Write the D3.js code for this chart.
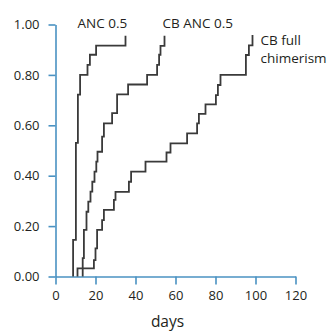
<!DOCTYPE html>
<html><head><meta charset="utf-8">
<script src="https://cdn.jsdelivr.net/npm/d3@7"></script>
<style>
html,body{margin:0;padding:0;background:#fff;}
svg{display:block;font-family:"Open Sans","Noto Sans",sans-serif;}
</style></head>
<body><svg id="c" width="333" height="333"></svg>
<script>
// ---- data ----
const seriesNames = ["ANC 0.5", "CB ANC 0.5", "CB full chimerism"];
const ancDays   = [8.8, 10.2, 11.2, 12.3, 16.0, 17.2, 20.3, 35.0];
const ancVals   = [0.145, 0.53, 0.722, 0.80, 0.84, 0.88, 0.916, 0.955];
const cbAncDays = [13.6, 14.2, 15.5, 16.4, 17.5, 18.4, 19.5, 20.4, 21.0, 23.3, 24.2, 28.3, 30.8, 36.3, 45.8, 50.8, 51.8, 52.5, 54.5];
const cbAncVals = [0.073, 0.185, 0.257, 0.297, 0.337, 0.376, 0.416, 0.456, 0.495, 0.555, 0.608, 0.648, 0.723, 0.762, 0.80, 0.84, 0.88, 0.915, 0.955];
const cbFullDays = [11.0, 19.2, 20.0, 20.8, 23.3, 24.2, 29.2, 30.0, 36.7, 37.8, 45.0, 55.5, 57.5, 65.8, 70.8, 71.7, 75.0, 80.2, 81.2, 82.5, 95.2, 96.7, 98.5];
const cbFullVals = [0.0325, 0.065, 0.112, 0.185, 0.224, 0.264, 0.304, 0.336, 0.376, 0.416, 0.456, 0.492, 0.528, 0.568, 0.608, 0.645, 0.683, 0.72, 0.76, 0.80, 0.879, 0.917, 0.958];
const xTicks = [0, 20, 40, 60, 80, 100, 120];
const yTicks = [0, 0.2, 0.4, 0.6, 0.8, 1.0];
const xLabel = "days";
// label anchors (data coords) and lines
const labelDays = [11, 53.5, 102.5];
const labelVals = [[0.985], [0.985], [0.918, 0.846]];
const labelLines = [["ANC 0.5"], ["CB ANC 0.5"], ["CB full", "chimerism"]];

// ---- layout ----
const svg = d3.select("#c");
const x = d3.scaleLinear().domain([0, 120]).range([55.5, 295.5]);
const y = d3.scaleLinear().domain([0, 1]).range([276.5, 24.5]);
const axisColor = "#4a92c2";
const textColor = "#231f20";

const gx = svg.append("g").attr("transform", `translate(0,${y(0)})`)
  .call(d3.axisBottom(x).tickValues(xTicks).tickSize(8).tickSizeOuter(0).tickPadding(6).tickFormat(d3.format("d")));
const gy = svg.append("g").attr("transform", `translate(${x(0)},0)`)
  .call(d3.axisLeft(y).tickValues(yTicks).tickSize(7).tickSizeOuter(0).tickPadding(9).tickFormat(d3.format(".2f")));
[gx, gy].forEach(g => {
  g.selectAll("path.domain").attr("stroke", axisColor).attr("stroke-width", 1.6);
  g.selectAll(".tick line").attr("stroke", axisColor).attr("stroke-width", 1.6);
  g.selectAll(".tick text").attr("fill", textColor).style("font-size", "13px").style("font-family", '"Open Sans","Noto Sans",sans-serif');
});

svg.append("text").attr("x", x(56)).attr("y", 327).attr("text-anchor", "middle")
  .attr("fill", textColor).style("font-size", "15.5px").text(xLabel);

const line = d3.line().x(d => x(d[0])).y(d => y(d[1])).curve(d3.curveStepAfter);
const series = [[ancDays, ancVals], [cbAncDays, cbAncVals], [cbFullDays, cbFullVals]];
series.forEach(([days, vals]) => {
  const pts = [[days[0], 0]].concat(days.map((d, i) => [d, vals[i]]));
  svg.append("path").datum(pts).attr("d", line)
    .attr("fill", "none").attr("stroke", "#3a3a3a").attr("stroke-width", 1.8);
});

labelLines.forEach((lines, i) => {
  lines.forEach((t, j) => {
    svg.append("text").attr("x", x(labelDays[i])).attr("y", y(labelVals[i][j]))
      .attr("fill", textColor).style("font-size", "13.5px").text(t);
  });
});
</script></body></html>
